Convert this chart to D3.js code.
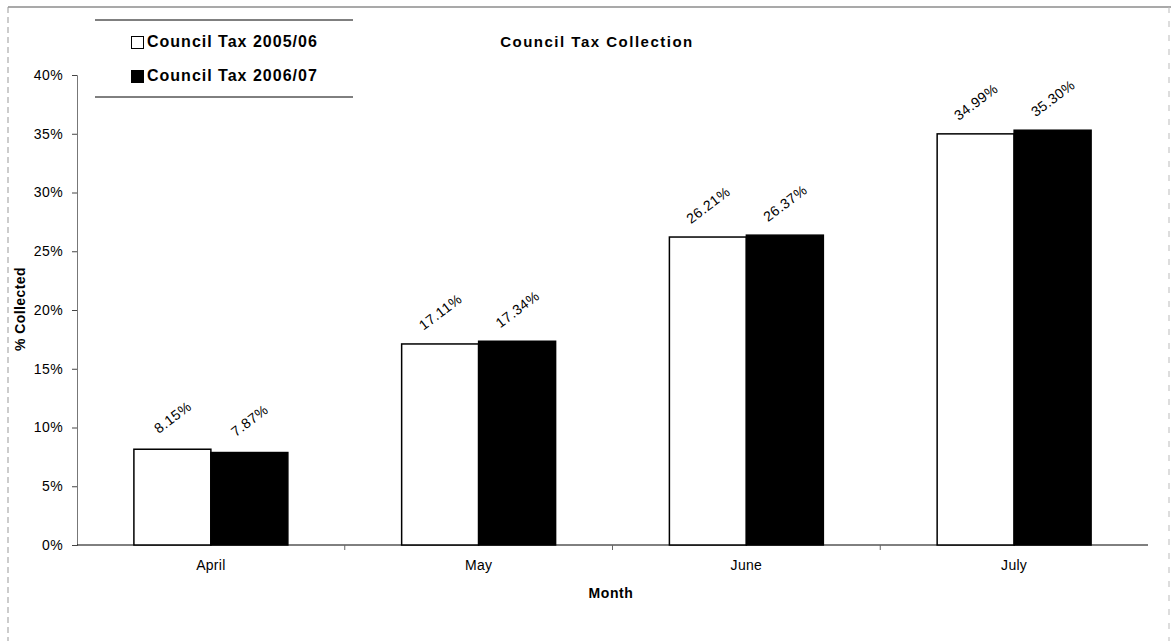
<!DOCTYPE html>
<html><head><meta charset="utf-8">
<script src="https://cdn.jsdelivr.net/npm/d3@7"></script>
<style>body{margin:0;background:#fff;}svg{display:block;font-family:"Liberation Sans",Arial,sans-serif;}</style>
</head><body>
<svg id="c" width="1171" height="641"></svg>
<script>
const months = ["April","May","June","July"];
const seriesNames = ["Council Tax 2005/06","Council Tax 2006/07"];
const values2005 = [8.15,17.11,26.21,34.99];
const values2006 = [7.87,17.34,26.37,35.30];
const yTicks = [0,5,10,15,20,25,30,35,40];
const labels2005 = ["8.15%","17.11%","26.21%","34.99%"];
const labels2006 = ["7.87%","17.34%","26.37%","35.30%"];

const svg = d3.select("#c");
const pL=77, pR=1148, pT=75, pB=545;
const x = d3.scaleBand().domain(months).range([pL,pR]).paddingInner(0.425).paddingOuter(0.2125);
const xs = d3.scaleBand().domain([0,1]).range([0,x.bandwidth()]);
const y = d3.scaleLinear().domain([0,40]).range([pB,pT]);

// frame
svg.append("line").attr("x1",8).attr("x2",1171).attr("y1",7).attr("y2",7).attr("stroke","#555").attr("stroke-width",1.2);
svg.append("line").attr("x1",8).attr("x2",8).attr("y1",7).attr("y2",641).attr("stroke","#999").attr("stroke-dasharray","6,4");
svg.append("line").attr("x1",1169).attr("x2",1169).attr("y1",7).attr("y2",641).attr("stroke","#bbb").attr("stroke-dasharray","6,8");

// y axis
const ya = svg.append("g").attr("transform",`translate(${pL},0)`)
  .call(d3.axisLeft(y).tickValues(yTicks).tickFormat(d=>d+"%").tickSize(5).tickPadding(9));
ya.select(".domain").attr("stroke","#777");
ya.selectAll("text").attr("font-size",14).attr("letter-spacing",0.4).attr("fill","#000").attr("font-family","Liberation Sans, Arial");
ya.selectAll(".tick line").attr("stroke","#444");

// x axis
const xa = svg.append("g").attr("transform",`translate(0,${pB})`)
  .call(d3.axisBottom(x).tickSize(0).tickPadding(15));
xa.select(".domain").remove();
svg.append("line").attr("x1",pL).attr("x2",pR).attr("y1",pB).attr("y2",pB).attr("stroke","#000");
xa.selectAll("text").attr("font-size",14).attr("letter-spacing",0.3).attr("fill","#000").attr("font-family","Liberation Sans, Arial");
const step = x.step();
months.forEach((m,i)=>{ if(i<months.length-1){ const tx = x(m)+x.bandwidth()/2+step/2;
  svg.append("line").attr("x1",tx).attr("x2",tx).attr("y1",pB).attr("y2",pB+5).attr("stroke","#666");}});

const series = [
  {vals:values2005, labs:labels2005, fill:"#fff"},
  {vals:values2006, labs:labels2006, fill:"#000"}
];
series.forEach((s,si)=>{
  svg.append("g").selectAll("rect").data(months).join("rect")
    .attr("x",(d)=>x(d)+xs(si)).attr("width",xs.bandwidth())
    .attr("y",(d,i)=>y(s.vals[i])).attr("height",(d,i)=>pB-y(s.vals[i]))
    .attr("fill",s.fill).attr("stroke","#000").attr("stroke-width",1.5);
  svg.append("g").selectAll("text").data(months).join("text")
    .attr("transform",(d,i)=>`translate(${x(d)+xs(si)+xs.bandwidth()/2+1},${y(s.vals[i])-31}) rotate(-37)`)
    .attr("text-anchor","middle").attr("dominant-baseline","middle")
    .attr("font-size",14).attr("letter-spacing",0.5).text((d,i)=>s.labs[i]);
});

svg.append("text").attr("x",611).attr("y",598).attr("text-anchor","middle").attr("font-weight","bold").attr("font-size",14).attr("letter-spacing",0.6).text("Month");
svg.append("text").attr("transform",`translate(25,309) rotate(-90)`).attr("text-anchor","middle").attr("font-weight","bold").attr("font-size",14).attr("letter-spacing",0.4).text("% Collected");
svg.append("text").attr("x",597).attr("y",47).attr("text-anchor","middle").attr("font-weight","bold").attr("font-size",15).attr("letter-spacing",1.5).text("Council Tax Collection");

// legend
svg.append("rect").attr("x",95).attr("y",20).attr("width",258).attr("height",77).attr("fill","#fff").attr("stroke","none");
svg.append("line").attr("x1",95).attr("x2",353).attr("y1",20).attr("y2",20).attr("stroke","#000");
svg.append("line").attr("x1",95).attr("x2",353).attr("y1",97).attr("y2",97).attr("stroke","#000");
const leg = svg.append("g").selectAll("g").data(seriesNames).join("g")
  .attr("transform",(d,i)=>`translate(131,${42+i*34})`);
leg.append("rect").attr("x",0.5).attr("y",-5.5).attr("width",12).attr("height",12)
  .attr("fill",(d,i)=>series[i].fill).attr("stroke","#000").attr("stroke-width",1);
leg.append("text").attr("x",16).attr("y",1).attr("dominant-baseline","middle")
  .attr("font-weight","bold").attr("font-size",16).attr("letter-spacing",1).text(d=>d);
</script>
</body></html>
